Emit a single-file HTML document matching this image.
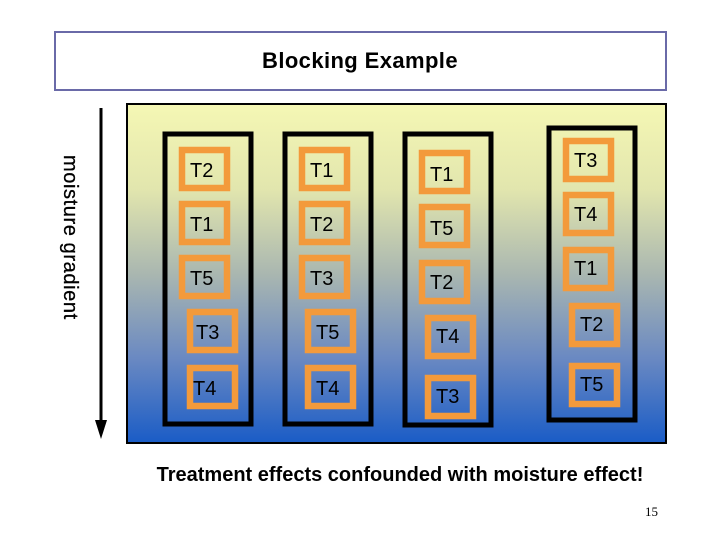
<!DOCTYPE html>
<html><head><style>body{margin:0;background:#fff}svg{display:block}</style></head>
<body>
<svg width="720" height="540" viewBox="0 0 720 540" xmlns="http://www.w3.org/2000/svg" font-family="Liberation Sans, Arial, sans-serif">
<defs>
<linearGradient id="g" x1="0" y1="0" x2="0" y2="1">
<stop offset="0" stop-color="#f5f7b4"/>
<stop offset="0.25" stop-color="#e2e6ae"/>
<stop offset="0.5" stop-color="#aab7b0"/>
<stop offset="0.75" stop-color="#6a89c2"/>
<stop offset="1" stop-color="#1a5cc6"/>
</linearGradient>
</defs>
<rect x="55" y="32" width="611" height="58" fill="#fff" stroke="#6a6aa8" stroke-width="2"/>
<text x="360" y="68" font-size="22" font-weight="bold" letter-spacing="0.4" text-anchor="middle">Blocking Example</text>
<rect x="127" y="104" width="539" height="339" fill="url(#g)" stroke="#000" stroke-width="2"/>
<line x1="101" y1="108" x2="101" y2="428" stroke="#000" stroke-width="3"/>
<polygon points="95,420 107,420 101,439" fill="#000"/>
<text transform="translate(64,155) rotate(90)" font-size="20" letter-spacing="0.6" stroke="#000" stroke-width="0.3">moisture gradient</text>
<g fill="none" stroke="#000" stroke-width="5">
<rect x="165" y="134" width="86" height="290"/>
<rect x="285" y="134" width="86" height="290"/>
<rect x="405" y="134" width="86" height="291"/>
<rect x="549" y="128" width="86" height="292"/>
</g>
<g fill="none" stroke="#f39a3b" stroke-width="6.5">
<rect x="182" y="150" width="45" height="38"/>
<rect x="182" y="204" width="45" height="38"/>
<rect x="182" y="258" width="45" height="38"/>
<rect x="190" y="312" width="45" height="38"/>
<rect x="190" y="368" width="45" height="38"/>
<rect x="302" y="150" width="45" height="38"/>
<rect x="302" y="204" width="45" height="38"/>
<rect x="302" y="258" width="45" height="38"/>
<rect x="308" y="312" width="45" height="38"/>
<rect x="308" y="368" width="45" height="38"/>
<rect x="422" y="153" width="45" height="38"/>
<rect x="422" y="207" width="45" height="38"/>
<rect x="422" y="263" width="45" height="38"/>
<rect x="428" y="318" width="45" height="38"/>
<rect x="428" y="378" width="45" height="38"/>
<rect x="566" y="141" width="45" height="38"/>
<rect x="566" y="195" width="45" height="38"/>
<rect x="566" y="250" width="45" height="38"/>
<rect x="572" y="306" width="45" height="38"/>
<rect x="572" y="366" width="45" height="38"/>
</g>
<g font-size="20" fill="#000">
<text x="190" y="177">T2</text><text x="190" y="231">T1</text><text x="190" y="285">T5</text>
<text x="196" y="339">T3</text><text x="193" y="395">T4</text>
<text x="310" y="177">T1</text><text x="310" y="231">T2</text><text x="310" y="285">T3</text>
<text x="316" y="339">T5</text><text x="316" y="395">T4</text>
<text x="430" y="181">T1</text><text x="430" y="235">T5</text><text x="430" y="289">T2</text>
<text x="436" y="343">T4</text><text x="436" y="403">T3</text>
<text x="574" y="167">T3</text><text x="574" y="221">T4</text><text x="574" y="275">T1</text>
<text x="580" y="331">T2</text><text x="580" y="391">T5</text>
</g>
<text x="400" y="481" font-size="20" font-weight="bold" text-anchor="middle">Treatment effects confounded with moisture effect!</text>
<text x="645" y="516" font-size="13" font-family="Liberation Serif, serif">15</text>
</svg>
</body></html>
